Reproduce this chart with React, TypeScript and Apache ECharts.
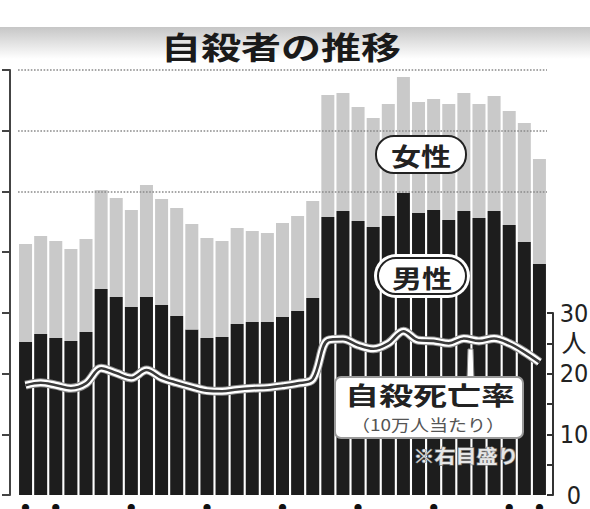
import React, { useEffect, useRef } from 'react';
import * as echarts from 'echarts';

const years = [
  '1978', '1979', '1980', '1981', '1982', '1983', '1984', '1985', '1986', '1987',
  '1988', '1989', '1990', '1991', '1992', '1993', '1994', '1995', '1996', '1997',
  '1998', '1999', '2000', '2001', '2002', '2003', '2004', '2005', '2006', '2007',
  '2008', '2009', '2010', '2011', '2012',
];

const yearTickLabels: Record<string, string> = {
  '1978': '78', '1980': '80', '1985': '85', '1990': '90', '1995': '95',
  '2000': '2000', '2005': '05', '2010': '10', '2012': '12',
};

// 男性 (persons)
const male = [
  12600, 13260, 12930, 12680, 13420, 16960, 16300, 15480, 16300, 15650,
  14740, 13630, 12930, 13010, 14080, 14250, 14250, 14660, 15150, 16220,
  22890, 23390, 22560, 22070, 22980, 24870, 23220, 23470, 22650, 23390,
  22810, 23390, 22230, 20830, 19020,
];

// 女性 (persons)
const female = [
  8070, 8070, 7990, 7580, 7660, 8160, 8160, 7990, 9230, 8730,
  8890, 8690, 8230, 7910, 7910, 7490, 7330, 7740, 7830, 7990,
  10050, 9710, 9390, 8970, 9220, 9550, 9140, 9140, 9550, 9710,
  9390, 9470, 9390, 9800, 8650,
];

// 自殺死亡率 (10万人当たり)
const rate = [
  18.1, 18.5, 18.1, 17.6, 18.4, 20.9, 20.1, 19.3, 20.6, 19.3,
  18.5, 17.8, 17.2, 17.1, 17.4, 17.6, 17.7, 18.0, 18.4, 19.1,
  25.5, 25.7, 24.7, 24.1, 25.0, 27.0, 25.5, 25.4, 25.0, 25.8,
  25.4, 25.8, 25.0, 23.6, 21.9,
];

const leftGridLines = [25000, 30000, 35000];
const rightAxisLabels: Record<number, string> = { 0: '0', 10: '10', 20: '20', 25: '人', 30: '30' };

const JP = "'Noto Sans CJK JP', 'Noto Sans', sans-serif";

export default function App() {
  const ref = useRef<HTMLDivElement>(null);

  useEffect(() => {
    document.body.style.margin = '0';
    if (!ref.current) return;
    const chart = echarts.init(ref.current, undefined, { renderer: 'svg' });

    const option: any = {
      animation: false,
      backgroundColor: '#ffffff',
      grid: [
        { left: 18, right: 43, top: 70, bottom: 14, containLabel: false, outerBoundsMode: 'none' },
        { left: 18, right: 43, top: 313, bottom: 14, containLabel: false, outerBoundsMode: 'none' },
      ],
      xAxis: [
        {
          type: 'category',
          data: years,
          gridIndex: 0,
          axisLine: { show: false },
          axisTick: { show: false },
          axisLabel: {
            interval: (_i: number, v: string) => v in yearTickLabels,
            formatter: (v: string) => `{d|●}\n{y|${yearTickLabels[v] ?? ''}}`,
            margin: 7,
            rich: {
              d: { fontSize: 8, lineHeight: 10, color: '#111', fontFamily: JP },
              y: { fontSize: 17, lineHeight: 20, color: '#222', fontFamily: 'Roboto, sans-serif' },
            },
          },
        },
        { type: 'category', data: years, gridIndex: 1, show: false },
      ],
      yAxis: [
        {
          type: 'value',
          gridIndex: 0,
          min: 0,
          max: 35000,
          interval: 5000,
          position: 'left',
          offset: 8,
          axisLine: { show: true, lineStyle: { color: '#444', width: 2 } },
          axisTick: { show: true, length: 8, lineStyle: { color: '#444', width: 2 } },
          axisLabel: { show: false },
          splitLine: { show: false },
        },
        {
          type: 'value',
          gridIndex: 1,
          min: 0,
          max: 30,
          interval: 5,
          position: 'right',
          offset: 6,
          axisLine: { show: true, lineStyle: { color: '#333', width: 2 } },
          axisTick: { show: true, inside: true, length: 6, lineStyle: { color: '#333', width: 2 } },
          axisLabel: {
            formatter: (v: number) => rightAxisLabels[v] ?? '',
            margin: 21,
            align: 'center',
            fontSize: 25,
            color: '#222',
            fontFamily: "'DejaVu Sans Condensed', Roboto, 'Noto Sans CJK JP', sans-serif",
          },
          splitLine: { show: false },
        },
      ],
      series: [
        {
          type: 'line',
          data: [],
          xAxisIndex: 0,
          yAxisIndex: 0,
          z: 1,
          silent: true,
          markLine: {
            silent: true,
            symbol: 'none',
            label: { show: false },
            lineStyle: { type: 'dotted', color: '#8a8a8a', width: 1.6 },
            data: leftGridLines.map((v) => ({ yAxis: v })),
          },
        },
        {
          name: '男性',
          type: 'bar',
          stack: 'total',
          data: male,
          xAxisIndex: 0,
          yAxisIndex: 0,
          barWidth: '86%',
          itemStyle: { color: '#1d1d1d' },
          z: 2,
        },
        {
          name: '女性',
          type: 'bar',
          stack: 'total',
          data: female,
          xAxisIndex: 0,
          yAxisIndex: 0,
          barWidth: '86%',
          itemStyle: { color: '#c9c9c9' },
          z: 2,
        },
        {
          name: 'rate-outer',
          type: 'line',
          data: rate,
          xAxisIndex: 1,
          yAxisIndex: 1,
          smooth: 0.35,
          symbol: 'none',
          lineStyle: { color: '#8a8a8a', width: 9 },
          z: 3,
          silent: true,
        },
        {
          name: 'rate-white',
          type: 'line',
          data: rate,
          xAxisIndex: 1,
          yAxisIndex: 1,
          smooth: 0.35,
          symbol: 'none',
          lineStyle: { color: '#ffffff', width: 7 },
          z: 4,
          silent: true,
        },
        {
          name: '自殺死亡率',
          type: 'line',
          data: rate,
          xAxisIndex: 1,
          yAxisIndex: 1,
          smooth: 0.35,
          symbol: 'none',
          lineStyle: { color: '#3a3a3a', width: 2.6 },
          z: 5,
        },
      ],
      graphic: [
        {
          type: 'rect',
          z: -1,
          shape: { x: 0, y: 27, width: 590, height: 32 },
          style: {
            fill: new echarts.graphic.LinearGradient(0, 0, 0, 1, [
              { offset: 0, color: '#c6c6c6' },
              { offset: 1, color: '#ffffff' },
            ]),
          },
        },
        {
          type: 'text',
          x: 281,
          y: 46,
          scaleY: 0.76,
          z: 10,
          style: {
            text: '自殺者の推移',
            fontSize: 40,
            fontWeight: 'bold',
            fontFamily: JP,
            fill: '#1a1a1a',
            align: 'center',
            verticalAlign: 'middle',
          },
        },
        // 女性 pill
        {
          type: 'rect',
          z: 10,
          shape: { x: 376, y: 136, width: 90, height: 37, r: 18 },
          style: { fill: '#ffffff', stroke: '#222', lineWidth: 2 },
        },
        {
          type: 'text',
          x: 421,
          y: 155,
          scaleY: 0.82,
          z: 11,
          style: {
            text: '女性',
            fontSize: 30,
            fontWeight: 'bold',
            fontFamily: JP,
            fill: '#222',
            align: 'center',
            verticalAlign: 'middle',
          },
        },
        // 男性 pill
        {
          type: 'rect',
          z: 10,
          shape: { x: 374, y: 254, width: 96, height: 44, r: 22 },
          style: { fill: '#ffffff' },
        },
        {
          type: 'rect',
          z: 10,
          shape: { x: 378, y: 258, width: 88, height: 36, r: 18 },
          style: { fill: '#ffffff', stroke: '#222', lineWidth: 2 },
        },
        {
          type: 'text',
          x: 422,
          y: 277,
          scaleY: 0.82,
          z: 11,
          style: {
            text: '男性',
            fontSize: 30,
            fontWeight: 'bold',
            fontFamily: JP,
            fill: '#222',
            align: 'center',
            verticalAlign: 'middle',
          },
        },
        // rate callout
        {
          type: 'polygon',
          z: 10,
          shape: { points: [[468, 349], [473, 349], [474, 379], [467, 379]] },
          style: { fill: '#ffffff', stroke: '#8a8a8a', lineWidth: 1 },
        },
        {
          type: 'rect',
          z: 10,
          shape: { x: 335, y: 377, width: 188, height: 61, r: 6 },
          style: { fill: '#ffffff', stroke: '#9a9a9a', lineWidth: 2 },
        },
        {
          type: 'text',
          x: 430,
          y: 395,
          scaleY: 0.72,
          z: 11,
          style: {
            text: '自殺死亡率',
            fontSize: 34,
            fontWeight: 'bold',
            fontFamily: JP,
            fill: '#222',
            align: 'center',
            verticalAlign: 'middle',
          },
        },
        {
          type: 'text',
          x: 428,
          y: 424,
          scaleY: 0.85,
          z: 11,
          style: {
            text: '（10万人当たり）',
            fontSize: 19,
            fontFamily: JP,
            fill: '#555',
            align: 'center',
            verticalAlign: 'middle',
          },
        },
        {
          type: 'text',
          x: 466,
          y: 455,
          scaleY: 0.85,
          z: 11,
          style: {
            text: '※右目盛り',
            fontSize: 21,
            fontWeight: 'bold',
            fontFamily: JP,
            fill: '#e6e6e6',
            stroke: '#777',
            lineWidth: 1.5,
            align: 'center',
            verticalAlign: 'middle',
          },
        },
      ],
    };

    chart.setOption(option);
    return () => chart.dispose();
  }, []);

  return <div ref={ref} style={{ width: 590, height: 509 }} />;
}
